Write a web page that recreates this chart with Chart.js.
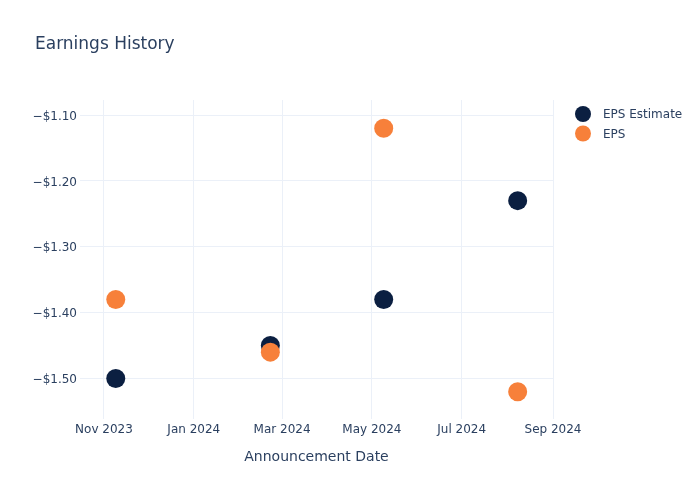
<!DOCTYPE html>
<html>
<head>
<meta charset="utf-8">
<script src="https://cdn.jsdelivr.net/npm/chart.js@4/dist/chart.umd.min.js"></script>
<style>
  html, body { margin: 0; padding: 0; background: #fff; }
  #wrap { width: 700px; height: 500px; }
</style>
</head>
<body>
<div id="wrap"><canvas id="earningsChart" width="700" height="500"></canvas></div>
<script>
// announcement dates (UTC)
var dates = [
  Date.UTC(2023, 10, 9),
  Date.UTC(2024, 1, 22),
  Date.UTC(2024, 4, 9),
  Date.UTC(2024, 7, 8)
];
var epsEstimate = [-1.50, -1.45, -1.38, -1.23];
var epsActual = [-1.38, -1.46, -1.12, -1.52];

var xTicks = [
  Date.UTC(2023, 10, 1),
  Date.UTC(2024, 0, 1),
  Date.UTC(2024, 2, 1),
  Date.UTC(2024, 4, 1),
  Date.UTC(2024, 6, 1),
  Date.UTC(2024, 8, 1)
];
var yTicks = [-1.5, -1.4, -1.3, -1.2, -1.1];
var monthNames = ["Jan", "Feb", "Mar", "Apr", "May", "Jun", "Jul", "Aug", "Sep", "Oct", "Nov", "Dec"];

var textColor = "#2a3f5f";
var gridColor = "#ebf0f8";
var navy = "#0b1f41";
var orange = "#f7803a";
var fontFamily = "'DejaVu Sans', Verdana, sans-serif";

function toPoints(values) {
  return values.map(function (v, i) { return { x: dates[i], y: v }; });
}

// title and legend drawn at fixed spots, like the plotly original
var decorPlugin = {
  id: "decor",
  afterDraw: function (chart) {
    var ctx = chart.ctx;
    ctx.save();
    ctx.fillStyle = textColor;
    ctx.textBaseline = "middle";
    ctx.textAlign = "left";
    ctx.font = "17px " + fontFamily;
    ctx.fillText("Earnings History", 35, 45);

    ctx.font = "12px " + fontFamily;
    var legendOrder = [0, 1];
    legendOrder.forEach(function (idx, row) {
      var ds = chart.data.datasets[idx];
      var y = 114 + row * 19.5;
      ctx.beginPath();
      ctx.fillStyle = ds.backgroundColor;
      ctx.arc(583, y, 8, 0, Math.PI * 2);
      ctx.fill();
      ctx.fillStyle = textColor;
      ctx.fillText(ds.label, 603, y + 1);
    });
    ctx.restore();
  }
};

var chart = new Chart(document.getElementById("earningsChart"), {
  type: "scatter",
  data: {
    datasets: [{
      label: "EPS Estimate",
      data: toPoints(epsEstimate),
      backgroundColor: navy,
      borderWidth: 0,
      pointRadius: 9.5,
      pointHoverRadius: 9.5,
      order: 1
    }, {
      label: "EPS",
      data: toPoints(epsActual),
      backgroundColor: orange,
      borderWidth: 0,
      pointRadius: 9.5,
      pointHoverRadius: 9.5,
      order: 0
    }]
  },
  options: {
    responsive: false,
    animation: false,
    layout: {
      padding: { left: 0, right: 147, top: 100, bottom: 0 }
    },
    plugins: {
      legend: { display: false },
      title: { display: false },
      tooltip: { enabled: false }
    },
    scales: {
      x: {
        type: "linear",
        min: Date.UTC(2023, 9, 15, 17),
        max: Date.UTC(2024, 8, 1),
        border: { display: false },
        grid: { color: gridColor, lineWidth: 1, drawTicks: false },
        afterBuildTicks: function (scale) {
          scale.ticks = xTicks.map(function (v) { return { value: v }; });
        },
        afterFit: function (scale) { scale.height = 81; },
        ticks: {
          color: textColor,
          font: { family: fontFamily, size: 12 },
          padding: 4,
          maxRotation: 0,
          autoSkip: false,
          callback: function (value) {
            var d = new Date(value);
            return monthNames[d.getUTCMonth()] + " " + d.getUTCFullYear();
          }
        },
        title: {
          display: true,
          text: "Announcement Date",
          color: textColor,
          font: { family: fontFamily, size: 14 },
          padding: { top: 0, bottom: 34 }
        }
      },
      y: {
        min: -1.5615,
        max: -1.0772,
        border: { display: false },
        grid: { color: gridColor, lineWidth: 1, drawTicks: false },
        afterBuildTicks: function (scale) {
          scale.ticks = yTicks.map(function (v) { return { value: v }; });
        },
        afterFit: function (scale) { scale.width = 80; },
        ticks: {
          color: textColor,
          font: { family: fontFamily, size: 12 },
          padding: 3,
          labelOffset: 1.5,
          callback: function (value) {
            var s = "$" + Math.abs(value).toFixed(2);
            return value < 0 ? "\u2212" + s : s;
          }
        }
      }
    }
  },
  plugins: [decorPlugin]
});
</script>
</body>
</html>
